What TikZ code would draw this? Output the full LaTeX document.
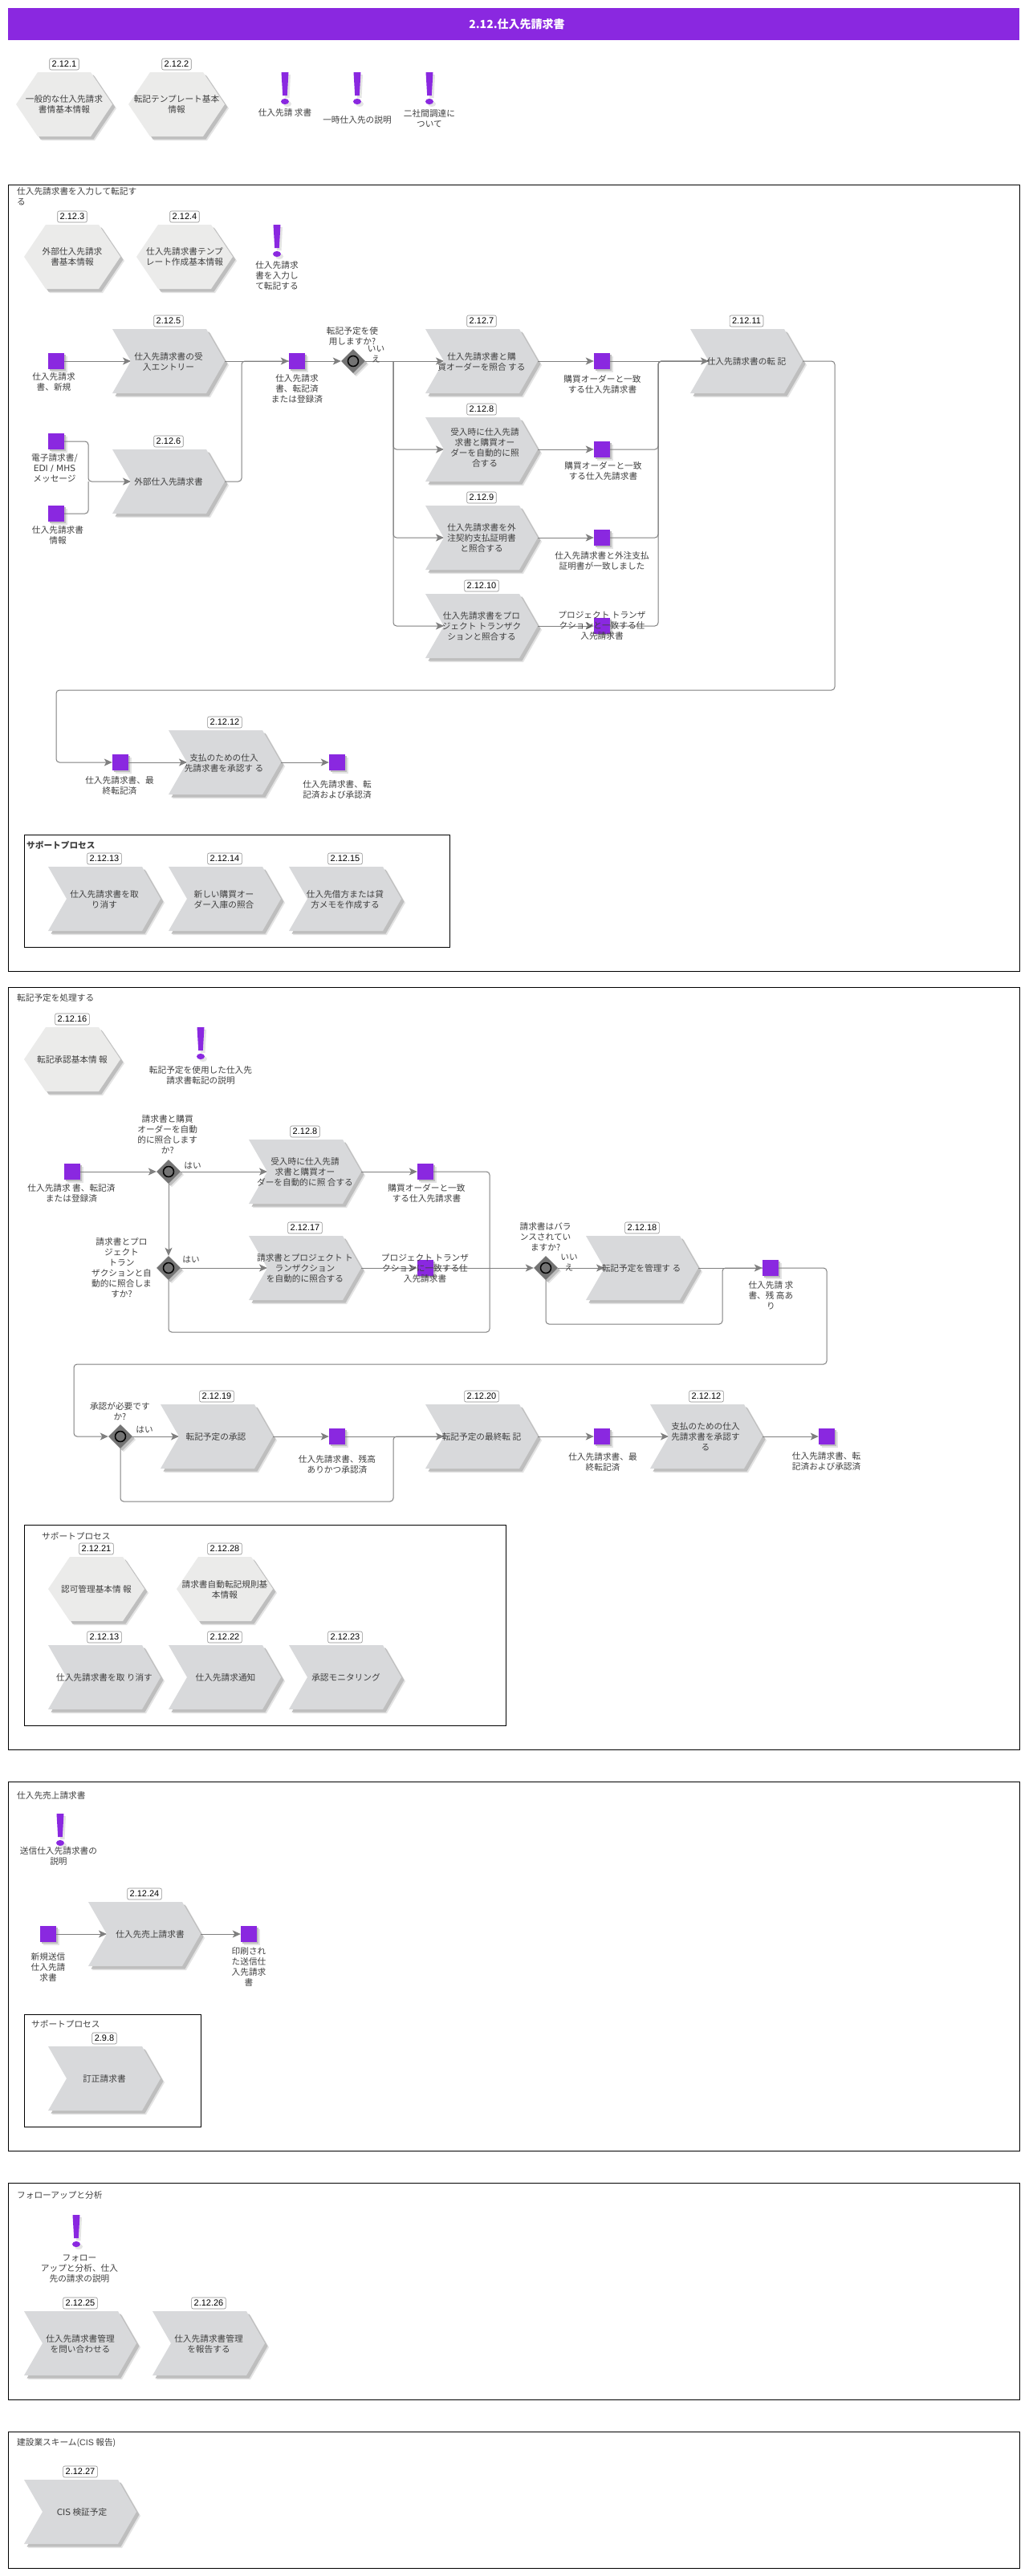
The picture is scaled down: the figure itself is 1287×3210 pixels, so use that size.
\documentclass[tikz,border=0pt]{standalone}
\usepackage{fontspec}
\usetikzlibrary{shapes.geometric,arrows.meta}
\setmainfont{Liberation Sans}
\newfontfamily\jpfont{Noto Sans CJK JP}
\newfontfamily\latfont{Liberation Sans}
\newfontfamily\dvfont{DejaVu Sans}
\definecolor{vio}{HTML}{8A28E0}
\definecolor{chevg}{HTML}{D8D9DB}
\definecolor{hexg}{HTML}{EBEBEA}
\definecolor{linec}{HTML}{7F7F7F}
\definecolor{txtc}{HTML}{404040}
\definecolor{shA}{HTML}{E4E4E4}
\definecolor{shB}{HTML}{BEBEBE}
\definecolor{diag}{HTML}{737373}
\tikzset{
 line/.style={draw=linec,line width=1pt,rounded corners=4pt},
 arr/.style={line,-{Stealth[length=10pt,width=9pt,inset=2.5pt]}},
 frm/.style={draw=black,line width=1pt,fill=none},
 txt/.style={font=\jpfont\fontsize{10.67}{13}\selectfont,text=txtc,align=center,inner sep=0pt},
 txtl/.style={txt,align=left,anchor=west},
 numbox/.style={font=\latfont\fontsize{11}{13}\selectfont,text=black,draw=black!45,line width=0.6pt,fill=white,rounded corners=2pt,minimum height=14pt,inner ysep=0pt,inner xsep=3pt},
 evbox/.style={fill=vio,minimum width=20pt,minimum height=20pt,inner sep=0pt},
 chevbox/.style={minimum width=140pt,minimum height=80pt,inner sep=0pt},
 diabox/.style={diamond,fill=diag,minimum width=30pt,minimum height=30pt,inner sep=0pt,aspect=1},
}
\newcounter{tn}
\newcommand{\Txt}[3]{\stepcounter{tn}\node[txt] (t\arabic{tn}) at (#1,#2) {#3};}
\newcommand{\TxtL}[3]{\stepcounter{tn}\node[txtl] (t\arabic{tn}) at (#1,#2) {#3};}
\newcommand{\Num}[3]{\stepcounter{tn}\node[numbox] (t\arabic{tn}) at (#1,#2) {#3};}
\newcommand{\Chev}[4]{%
 \begin{scope}[shift={(#2,#3)}]
  \foreach \o/\c in {5/shA,3.5/shB}{
   \fill[\c] (-70+\o,-40+\o) -- (47+\o,-40+\o) -- (70+\o,0+\o) -- (47+\o,40+\o) -- (-70+\o,40+\o) -- (-47+\o,0+\o) -- cycle;}
  \fill[chevg] (-70,-40) -- (47,-40) -- (70,0) -- (47,40) -- (-70,40) -- (-47,0) -- cycle;
  \node[chevbox] (#1) at (0,0) {};
  \coordinate (#1-in) at (-47,0);
 \end{scope}
 \Num{#2}{#3-50}{#4}}
\newcommand{\Hex}[4]{%
 \begin{scope}[shift={(#2,#3)}]
  \foreach \o/\c in {5/shA,3.5/shB}{
   \fill[\c] (-60+\o,0+\o) -- (-33+\o,-40+\o) -- (33+\o,-40+\o) -- (60+\o,0+\o) -- (33+\o,40+\o) -- (-33+\o,40+\o) -- cycle;}
  \fill[hexg] (-60,0) -- (-33,-40) -- (33,-40) -- (60,0) -- (33,40) -- (-33,40) -- cycle;
  \node[inner sep=0pt,minimum width=120pt,minimum height=80pt] (#1) at (0,0) {};
 \end{scope}
 \Num{#2}{#3-50}{#4}}
\newcommand{\Ev}[3]{%
 \fill[shA] (#2-10+3.5,#3-10+3.5) rectangle (#2+10+3.5,#3+10+3.5);
 \fill[shB] (#2-10+2,#3-10+2) rectangle (#2+10+2,#3+10+2);
 \node[evbox] (#1) at (#2,#3) {};}
\newcommand{\Dia}[3]{%
 \fill[shA] (#2-15+4,#3+4) -- (#2+4,#3-15+4) -- (#2+15+4,#3+4) -- (#2+4,#3+15+4) -- cycle;
 \fill[shB] (#2-15+2.5,#3+2.5) -- (#2+2.5,#3-15+2.5) -- (#2+15+2.5,#3+2.5) -- (#2+2.5,#3+15+2.5) -- cycle;
 \node[diabox] (#1) at (#2,#3) {};
 \draw[black,line width=1.5pt,fill=diag] (#1.center) circle (6.5pt);}
\newcommand{\Excl}[3]{%
 \begin{scope}[shift={(#2,#3)}]
  \fill[shA] (-2,3) -- (7,3) -- (5.5,32) -- (0,32) -- cycle;
  \fill[shA] (3,39.5) ellipse (5pt and 3.6pt);
  \fill[vio] (-4.5,0) -- (4.5,0) -- (2.8,29) -- (-2.8,29) -- cycle;
  \fill[vio] (0,36.5) ellipse (5pt and 3.6pt);
  \coordinate (#1) at (0,0);
 \end{scope}}
\begin{document}
\begin{tikzpicture}[x=1pt,y=-1pt]
\useasboundingbox (0,0) rectangle (1287,3210);
\fill[white] (0,0) rectangle (1287,3210);
% banner
\node[fill=vio,minimum width=1260pt,minimum height=40pt,inner sep=0pt] (banner) at (640,30) {};
\node[font=\jpfont\bfseries\fontsize{14}{16}\selectfont,text=white,inner sep=0pt] (bannertxt) at (644,30) {2.12.仕入先請求書};
% frames
\draw[frm] (10,230) rectangle (1270,1210);
\draw[frm] (10,1230) rectangle (1270,2180);
\draw[frm] (10,2220) rectangle (1270,2680);
\draw[frm] (10,2720) rectangle (1270,2990);
\draw[frm] (10,3030) rectangle (1270,3200);
\draw[frm] (30,1040) rectangle (560,1180);
\draw[frm] (30,1900) rectangle (630,2150);
\draw[frm] (30,2510) rectangle (250,2650);
% top row
\Hex{h1}{80}{130}{2.12.1}
\Hex{h2}{220}{130}{2.12.2}
\Excl{x1}{355}{90}
\Excl{x2}{445}{90}
\Excl{x3}{535}{90}
% section 1
\Hex{h3}{90}{320}{2.12.3}
\Hex{h4}{230}{320}{2.12.4}
\Excl{x4}{345}{280}
\Chev{c5}{210}{450}{2.12.5}
\Chev{c6}{210}{600}{2.12.6}
\Chev{c7}{600}{450}{2.12.7}
\Chev{c8}{600}{560}{2.12.8}
\Chev{c9}{600}{670}{2.12.9}
\Chev{c10}{600}{780}{2.12.10}
\Chev{c11}{930}{450}{2.12.11}
\Chev{c12}{280}{950}{2.12.12}
\Chev{c13}{130}{1120}{2.12.13}
\Chev{c14}{280}{1120}{2.12.14}
\Chev{c15}{430}{1120}{2.12.15}
\Ev{e1}{70}{450}
\Ev{e2}{70}{550}
\Ev{e3}{70}{640}
\Ev{e4}{370}{450}
\Ev{e7}{750}{450}
\Ev{e8}{750}{560}
\Ev{e9}{750}{670}
\Ev{e10}{750}{780}
\Ev{e11}{150}{950}
\Ev{e12}{420}{950}
\Dia{d1}{440}{450}
\coordinate (j1) at (110,600);
\coordinate (j2) at (301,450);
\coordinate (j3) at (490,450);
\coordinate (j4) at (820,450);
\coordinate (j5) at (1040,450);
\coordinate (j6) at (1040,860);
\coordinate (j7) at (70,860);
\coordinate (j8) at (70,950);
\draw[arr] (e1.east) -- (c5-in);
\draw[arr] (c5.east) -- (e4.west);
\draw[arr] (e2.east) -| (j1) -- (c6-in);
\draw[line] (e3.east) -| (j1);
\draw[line] (c6.east) -| (j2) -- (e4.west);
\draw[arr] (e4.east) -- (d1.west);
\draw[arr] (d1.east) -- (c7-in);
\draw[arr] (j3) |- (c8-in);
\draw[arr] (j3) |- (c9-in);
\draw[arr] (j3) |- (c10-in);
\draw[arr] (c7.east) -- (e7.west);
\draw[arr] (c8.east) -- (e8.west);
\draw[arr] (c9.east) -- (e9.west);
\draw[arr] (c10.east) -- (e10.west);
\draw[arr] (e7.east) -- (c11-in);
\draw[line] (e8.east) -| (j4) -- (c11-in);
\draw[line] (e9.east) -| (j4) -- (c11-in);
\draw[line] (e10.east) -| (j4) -- (c11-in);
\draw[arr] (c11.east) -- (j5) -- (j6) -- (j7) -- (j8) -- (e11.west);
\draw[arr] (e11.east) -- (c12-in);
\draw[arr] (c12.east) -- (e12.west);
% section 2
\Hex{h16}{90}{1320}{2.12.16}
\Excl{x5}{250}{1280}
\Chev{c8b}{380}{1460}{2.12.8}
\Chev{c17}{380}{1580}{2.12.17}
\Chev{c18}{800}{1580}{2.12.18}
\Chev{c19}{270}{1790}{2.12.19}
\Chev{c20}{600}{1790}{2.12.20}
\Chev{c12b}{880}{1790}{2.12.12}
\Hex{h21}{120}{1980}{2.12.21}
\Hex{h28}{280}{1980}{2.12.28}
\Chev{c13b}{130}{2090}{2.12.13}
\Chev{c22}{280}{2090}{2.12.22}
\Chev{c23}{430}{2090}{2.12.23}
\Ev{f1}{90}{1460}
\Ev{f2}{530}{1460}
\Ev{f3}{530}{1580}
\Ev{f4}{960}{1580}
\Ev{f5}{420}{1790}
\Ev{f6}{750}{1790}
\Ev{f7}{1030}{1790}
\Dia{d2}{210}{1460}
\Dia{d3}{210}{1580}
\Dia{d4}{680}{1580}
\Dia{d5}{150}{1790}
\coordinate (k1) at (610,1660);
\coordinate (k2) at (610,1460);
\coordinate (k3) at (900,1650);
\coordinate (k4) at (900,1580);
\coordinate (k5) at (1030,1580);
\coordinate (k6) at (1030,1700);
\coordinate (k7) at (92,1700);
\coordinate (k8) at (92,1790);
\coordinate (k9) at (490,1871);
\coordinate (k10) at (490,1790);
\draw[arr] (f1.east) -- (d2.west);
\draw[arr] (d2.east) -- (c8b-in);
\draw[arr] (d2.south) -- (d3.north);
\draw[arr] (d3.east) -- (c17-in);
\draw[arr] (c8b.east) -- (f2.west);
\draw[arr] (c17.east) -- (f3.west);
\draw[arr] (f3.east) -- (d4.west);
\draw[line] (d3.south) |- (k1) -- (k2) -- (f2.east);
\draw[arr] (d4.east) -- (c18-in);
\draw[arr] (c18.east) -- (f4.west);
\draw[line] (d4.south) |- (k3) -- (k4) -- (f4.west);
\draw[arr] (f4.east) -- (k5) -- (k6) -- (k7) -- (k8) -- (d5.west);
\draw[arr] (d5.east) -- (c19-in);
\draw[arr] (c19.east) -- (f5.west);
\draw[arr] (f5.east) -- (c20-in);
\draw[line] (d5.south) |- (k9) -- (k10) -- (c20-in);
\draw[arr] (c20.east) -- (f6.west);
\draw[arr] (f6.east) -- (c12b-in);
\draw[arr] (c12b.east) -- (f7.west);
% section 3
\Excl{x6}{75}{2260}
\Chev{c24}{180}{2410}{2.12.24}
\Chev{c98}{130}{2590}{2.9.8}
\Ev{g1}{60}{2410}
\Ev{g2}{310}{2410}
\draw[arr] (g1.east) -- (c24-in);
\draw[arr] (c24.east) -- (g2.west);
% section 4, 5
\Excl{x7}{95}{2760}
\Chev{c25}{100}{2920}{2.12.25}
\Chev{c26}{260}{2920}{2.12.26}
\Chev{c27}{100}{3130}{2.12.27}
% ---- texts
\Txt{80}{130}{一般的な仕入先請求\\書情基本情報}
\Txt{220}{130}{転記テンプレート基本\\情報}
\Txt{355}{140}{仕入先請 求書}
\Txt{445}{149}{一時仕入先の説明}
\Txt{535}{147.5}{二社間調達に\\ついて}
\TxtL{21}{245}{仕入先請求書を入力して転記す\\る}
\Txt{90}{320}{外部仕入先請求\\書基本情報}
\Txt{230}{320}{仕入先請求書テンプ\\レート作成基本情報}
\Txt{345}{343}{仕入先請求\\書を入力し\\て転記する}
\Txt{67}{475.5}{仕入先請求\\書、新規}
\Txt{210}{450.5}{仕入先請求書の受\\入エントリー}
\Txt{68}{583}{電子請求書/\\{\dvfont EDI / MHS}\\メッセージ}
\Txt{72}{666.5}{仕入先請求書\\情報}
\Txt{210}{600}{外部仕入先請求書}
\Txt{370}{484}{仕入先請求\\書、転記済\\または登録済}
\Txt{439}{418.5}{転記予定を使\\用しますか?}
\Txt{468.5}{441.5}{いい\\え}
\Txt{600}{450.5}{仕入先請求書と購\\買オーダーを照合 する}
\Txt{604}{557.5}{受入時に仕入先請\\求書と購買オー\\ダーを自動的に照\\合する}
\Txt{600}{670}{仕入先請求書を外\\注契約支払証明書\\と照合する}
\Txt{600}{780}{仕入先請求書をプロ\\ジェクト トランザク\\ションと照合する}
\Txt{750.5}{478.5}{購買オーダーと一致\\する仕入先請求書}
\Txt{751.5}{586.5}{購買オーダーと一致\\する仕入先請求書}
\Txt{750}{698.5}{仕入先請求書と外注支払\\証明書が一致しました}
\Txt{750}{780}{プロジェクト トランザ\\クションと一致する仕\\入先請求書}
\Txt{930}{450}{仕入先請求書の転 記}
\Txt{149}{978.5}{仕入先請求書、最\\終転記済}
\Txt{279}{950.5}{支払のための仕入\\先請求書を承認す る}
\Txt{420}{983.5}{仕入先請求書、転\\記済および承認済}
\TxtL{33}{1053}{\bfseries サポートプロセス}
\Txt{130}{1120.5}{仕入先請求書を取\\り消す}
\Txt{279}{1120.5}{新しい購買オー\\ダー入庫の照合}
\Txt{430}{1120.5}{仕入先借方または貸\\方メモを作成する}
% section 2 text
\TxtL{21}{1243}{転記予定を処理する}
\Txt{90}{1320}{転記承認基本情 報}
\Txt{250}{1339.5}{転記予定を使用した仕入先\\請求書転記の説明}
\Txt{89}{1486.5}{仕入先請求 書、転記済\\または登録済}
\Txt{208.7}{1414}{請求書と購買\\オーダーを自動\\的に照合します\\か?}
\Txt{240}{1453}{はい}
\Txt{380}{1460}{受入時に仕入先請\\求書と購買オー\\ダーを自動的に照 合する}
\Txt{531.5}{1486.5}{購買オーダーと一致\\する仕入先請求書}
\Txt{151.5}{1579.5}{請求書とプロ\\ジェクト\\トラン\\ザクションと自\\動的に照合しま\\すか?}
\Txt{238}{1570}{はい}
\Txt{380}{1580}{請求書とプロジェクト ト\\ランザクション\\を自動的に照合する}
\Txt{529.5}{1580}{プロジェクト トランザ\\クションに一致する仕\\入先請求書}
\Txt{679.6}{1541}{請求書はバラ\\ンスされてい\\ますか?}
\Txt{709}{1573.5}{いい\\え}
\Txt{799}{1580}{転記予定を管理す る}
\Txt{960.4}{1614}{仕入先請 求\\書、残 高あ\\り}
\Txt{149.4}{1758.5}{承認が必要です\\か?}
\Txt{180}{1782}{はい}
\Txt{269}{1790}{転記予定の承認}
\Txt{420}{1824.5}{仕入先請求書、残高\\ありかつ承認済}
\Txt{600}{1790}{転記予定の最終転 記}
\Txt{751}{1821.5}{仕入先請求書、最\\終転記済}
\Txt{879}{1790}{支払のための仕入\\先請求書を承認す\\る}
\Txt{1029.6}{1821}{仕入先請求書、転\\記済および承認済}
\TxtL{52}{1914}{サポートプロセス}
\Txt{120}{1980}{認可管理基本情 報}
\Txt{280}{1980.5}{請求書自動転記規則基\\本情報}
\Txt{130}{2090}{仕入先請求書を取 り消す}
\Txt{281}{2090}{仕入先請求通知}
\Txt{431}{2090}{承認モニタリング}
% section 3 text
\TxtL{21}{2237}{仕入先売上請求書}
\Txt{73}{2312.5}{送信仕入先請求書の\\説明}
\Txt{187}{2410}{仕入先売上請求書}
\Txt{60}{2451}{新規送信\\仕入先請\\求書}
\Txt{310}{2451}{印刷され\\た送信仕\\入先請求\\書}
\TxtL{39}{2522}{サポートプロセス}
\Txt{130}{2590}{訂正請求書}
% section 4,5 text
\TxtL{21}{2735}{フォローアップと分析}
\Txt{99}{2827}{フォロー\\アップと分析、仕入\\先の請求の説明}
\Txt{100}{2920.5}{仕入先請求書管理\\を問い合わせる}
\Txt{260}{2920.5}{仕入先請求書管理\\を報告する}
\TxtL{21}{3044}{建設業スキーム({\latfont CIS} 報告)}
\Txt{102}{3130}{{\dvfont CIS} 検証予定}
\end{tikzpicture}
\end{document}
